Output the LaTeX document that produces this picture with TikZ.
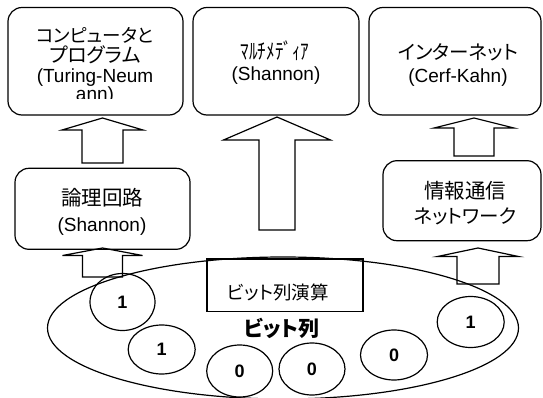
\documentclass[tikz,border=0pt]{standalone}
\usepackage{fontspec}
\setmainfont{Liberation Sans}
\newfontfamily\jp[RawFeature=+palt]{Noto Sans CJK JP}
\usetikzlibrary{shapes.geometric}
\newcommand{\blkarrow}[6]{%
  \draw[arr] (#1-#6,#4) -- (#1-#6,#3) -- (#1-#5,#3) -- (#1,#2) -- (#1+#5,#3) -- (#1+#6,#3) -- (#1+#6,#4) -- cycle;}
\begin{document}
\begin{tikzpicture}[x=1pt,y=-1pt,
  line width=1.2pt,
  box/.style={draw,rounded corners=14pt,inner sep=0pt},
  arr/.style={draw,line join=miter},
  lat/.style={inner sep=0pt,font=\fontsize{19}{20}\selectfont},
  jap/.style={inner sep=0pt,font=\jp\fontsize{#1}{20}\selectfont},
  jap/.default=18.5,
  bit/.style={draw,ellipse,inner sep=0pt,font=\bfseries\fontsize{18}{18}\selectfont}]
\useasboundingbox (0,0) rectangle (543,398);
% top boxes
\node[box,minimum width=175pt,minimum height=107.5pt] (b1) at (95.5,61.25) {};
\node[box,minimum width=166pt,minimum height=107.5pt] (b2) at (276,61.25) {};
\node[box,minimum width=172pt,minimum height=107.5pt] (b3) at (455,61.25) {};
\node[jap=18.5] (t1a) at (95,35) {コンピュータと};
\node[jap=20] (t1b) at (95,55) {プログラム};
\node[lat] (t1c) at (95,78) {(Turing-Neum};
\begin{scope}
  \clip (0,0) rectangle (543,99);
  \node[lat] (t1d) at (95,96) {ann)};
\end{scope}
\node[jap=22] (t2a) at (275,51) {\scalebox{0.78}[1]{ﾏﾙﾁﾒﾃﾞｨｱ}};
\node[lat] (t2b) at (276,76) {(Shannon)};
\node[jap=19.5] (t3a) at (458,52) {インターネット};
\node[lat] (t3b) at (458,78) {(Cerf-Kahn)};
% middle boxes
\node[box,minimum width=175pt,minimum height=81pt] (b4) at (102.5,208.8) {};
\node[jap=20.5] (t4a) at (102,198) {論理回路};
\node[lat] (t4b) at (102,227) {(Shannon)};
\node[box,minimum width=158pt,minimum height=80pt] (b5) at (462,200.7) {};
\node[jap=20.5] (t5a) at (465,190.7) {情報通信};
\node[jap=19.5] (t5b) at (465,216.7) {ネットワーク};
% block arrows
\blkarrow{102.5}{118}{130}{163}{40.5}{20.5}
\blkarrow{277}{117}{140}{230}{53.5}{18}
\blkarrow{474}{118}{128}{156}{40}{20}
\blkarrow{102.5}{248}{255.5}{277}{40}{20}
\blkarrow{478}{248}{256.5}{284}{40.5}{21}
% bit string area
\node[draw,ellipse,inner sep=0pt,minimum width=471pt,minimum height=142pt] (big) at (283,328) {};
\node[draw,inner sep=0pt,minimum width=156pt,minimum height=52.5pt] (op) at (285,285.25) {};
\node[jap=18.5] (opt) at (278,292) {ビット列演算};
\node[inner sep=0pt,font=\jp\bfseries\fontsize{21}{22}\selectfont] (bl) at (282,328) {ビット列};
\node[bit,minimum width=65pt,minimum height=57pt] (e1) at (122.5,302) {1};
\node[bit,minimum width=67pt,minimum height=49pt] (e2) at (161.7,349.5) {1};
\node[bit,minimum width=66pt,minimum height=52pt] (e3) at (239.7,371) {0};
\node[bit,minimum width=66pt,minimum height=52pt] (e4) at (312,369) {0};
\node[bit,minimum width=67pt,minimum height=50pt] (e5) at (394,355) {0};
\node[bit,minimum width=67pt,minimum height=51pt] (e6) at (470.7,322) {1};
\end{tikzpicture}
\end{document}
